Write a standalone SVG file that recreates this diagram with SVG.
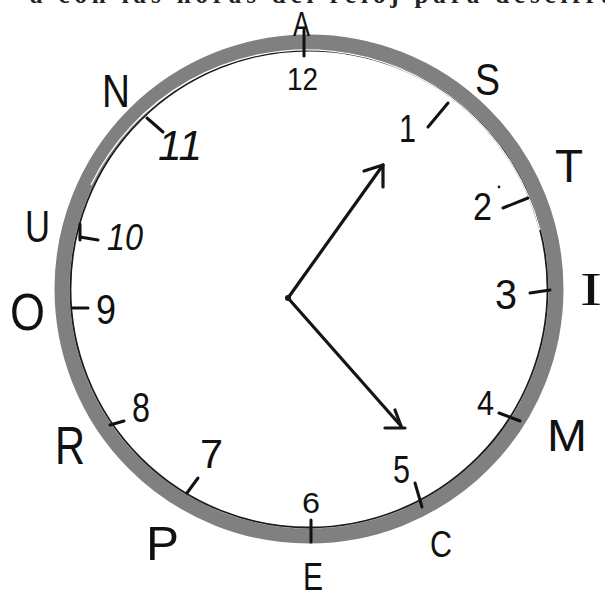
<svg xmlns="http://www.w3.org/2000/svg" width="605" height="599" viewBox="0 0 605 599">
<style>
.lbl{font-family:"Liberation Sans","DejaVu Sans",sans-serif;fill:#111;}
.tick{stroke:#111;stroke-width:3;stroke-linecap:round;fill:none;}
.hand{stroke:#151515;stroke-width:3.2;stroke-linecap:round;stroke-linejoin:round;fill:none;}
</style>
<rect width="605" height="599" fill="#fff"/>
<text x="30" y="3" font-family="Liberation Serif, serif" font-size="25" font-weight="bold" fill="#222" textLength="600" lengthAdjust="spacing">a con las horas del reloj para descifrar</text>
<g id="dial">
<circle cx="309" cy="289" r="247" fill="none" stroke="#808080" stroke-width="15"/>
<circle cx="309" cy="289" r="238.5" fill="none" stroke="#1a1a1a" stroke-width="1.8"/>
<path d="M 91 185 A 240.5 240.5 0 0 1 540 230" fill="none" stroke="#fff" stroke-width="1.3"/>
<circle cx="499" cy="187" r="1.4" fill="#222"/>
</g>
<g id="ticks">
<line class="tick" x1="304" y1="30" x2="304" y2="56"/>
<line class="tick" x1="428" y1="127" x2="448" y2="103"/>
<line class="tick" x1="503" y1="208" x2="528" y2="198"/>
<line class="tick" x1="530" y1="293" x2="550" y2="290"/>
<line class="tick" x1="499" y1="413" x2="520" y2="421"/>
<line class="tick" x1="415" y1="483" x2="422" y2="507"/>
<line class="tick" x1="311" y1="520" x2="311" y2="542"/>
<line class="tick" x1="187" y1="493" x2="198" y2="478"/>
<line class="tick" x1="110" y1="425" x2="124" y2="421"/>
<line class="tick" x1="72" y1="308" x2="88" y2="308"/>
<line class="tick" x1="80" y1="237" x2="98" y2="240"/>
<line class="tick" x1="80" y1="224" x2="80" y2="240" stroke-width="2"/>
<line class="tick" x1="147" y1="118" x2="163" y2="132"/>
</g>
<g id="numbers">
<text class="lbl" x="287" y="90" font-size="31" textLength="31" lengthAdjust="spacingAndGlyphs">12</text>
<text class="lbl" x="399" y="142" font-size="38" textLength="17" lengthAdjust="spacingAndGlyphs">1</text>
<text class="lbl" x="473" y="220" font-size="38" textLength="19" lengthAdjust="spacingAndGlyphs">2</text>
<text class="lbl" x="495" y="309" font-size="42" textLength="22" lengthAdjust="spacingAndGlyphs">3</text>
<text class="lbl" x="477" y="415" font-size="35" textLength="17" lengthAdjust="spacingAndGlyphs">4</text>
<text class="lbl" x="393" y="483" font-size="38" textLength="17" lengthAdjust="spacingAndGlyphs">5</text>
<text class="lbl" x="302" y="513" font-size="30" textLength="18" lengthAdjust="spacingAndGlyphs">6</text>
<text class="lbl" x="200" y="468" font-size="40" textLength="23" lengthAdjust="spacingAndGlyphs">7</text>
<text class="lbl" x="132" y="422" font-size="42" textLength="18" lengthAdjust="spacingAndGlyphs">8</text>
<text class="lbl" x="96" y="324" font-size="42" textLength="20" lengthAdjust="spacingAndGlyphs">9</text>
<text class="lbl" x="107" y="250" font-size="36" font-style="italic" textLength="36" lengthAdjust="spacingAndGlyphs">10</text>
<text class="lbl" x="158" y="160" font-size="43" font-style="italic" textLength="44" lengthAdjust="spacingAndGlyphs">11</text>
</g>
<g id="letters">
<text class="lbl" x="293" y="36" font-size="35" textLength="17" lengthAdjust="spacingAndGlyphs">A</text>
<text class="lbl" x="475" y="95" font-size="44" textLength="25" lengthAdjust="spacingAndGlyphs">S</text>
<text class="lbl" x="555" y="182" font-size="46">T</text>
<text x="580" y="305" font-family="Liberation Serif, serif" font-size="46" fill="#111" textLength="22" lengthAdjust="spacingAndGlyphs">I</text>
<text class="lbl" x="547" y="451" font-size="45" textLength="40" lengthAdjust="spacingAndGlyphs">M</text>
<text class="lbl" x="430" y="557" font-size="37" textLength="22" lengthAdjust="spacingAndGlyphs">C</text>
<text class="lbl" x="303" y="590" font-size="38" textLength="20" lengthAdjust="spacingAndGlyphs">E</text>
<text class="lbl" x="146" y="560" font-size="48" textLength="33" lengthAdjust="spacingAndGlyphs">P</text>
<text class="lbl" x="55" y="464" font-size="54" textLength="30" lengthAdjust="spacingAndGlyphs">R</text>
<text class="lbl" x="10" y="330" font-size="52" textLength="35" lengthAdjust="spacingAndGlyphs">O</text>
<text class="lbl" x="25" y="242" font-size="44" textLength="25" lengthAdjust="spacingAndGlyphs">U</text>
<text class="lbl" x="102" y="107" font-size="47" textLength="28" lengthAdjust="spacingAndGlyphs">N</text>
</g>
<g id="hands">
<circle cx="288" cy="298" r="3" fill="#151515"/>
<line class="hand" x1="288" y1="298" x2="383" y2="165"/>
<polyline class="hand" points="364,171 383,165 383,187"/>
<line class="hand" x1="288" y1="298" x2="401" y2="426"/>
<polyline class="hand" points="395,410 401,426"/>
<line class="hand" x1="385" y1="428" x2="405" y2="428"/>
</g>
</svg>
